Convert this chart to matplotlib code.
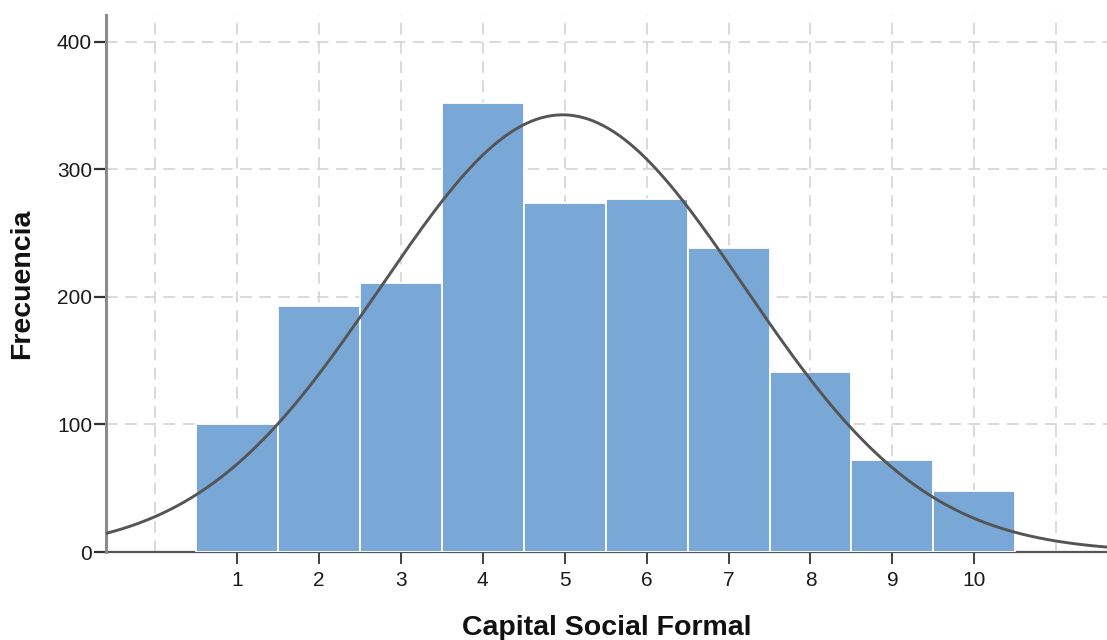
import numpy as np
import matplotlib
matplotlib.use("Agg")
import matplotlib.pyplot as plt

plt.rcParams['font.family'] = ['Liberation Sans', 'DejaVu Sans']

# Data
categories = [1, 2, 3, 4, 5, 6, 7, 8, 9, 10]
frequencies = [100, 193, 211, 352, 274, 277, 238, 141, 72, 48]
x_tick_labels = ['1', '2', '3', '4', '5', '6', '7', '8', '9', '10']
y_ticks = [0, 100, 200, 300, 400]
x_label = 'Capital Social Formal'
y_label = 'Frecuencia'

bar_color = '#7aa8d6'
curve_color = '#555555'

fig = plt.figure(figsize=(11.07, 6.40), dpi=100)
ax = fig.add_axes([106 / 1107, 1 - 552 / 640, 1 - 106 / 1107, (552 - 15) / 640])

cats = np.array(categories, dtype=float)
freq = np.array(frequencies, dtype=float)

ax.bar(cats, freq, width=1.0, color=bar_color, edgecolor='white',
       linewidth=1.3, zorder=3)

# Normal curve fitted to the histogram data (mean / sd of the binned values)
n = freq.sum()
mean = (cats * freq).sum() / n
sd = np.sqrt(((cats - mean) ** 2 * freq).sum() / n)
xs = np.linspace(-0.6, 11.7, 600)
ys = n * 1.0 / (sd * np.sqrt(2 * np.pi)) * np.exp(-0.5 * ((xs - mean) / sd) ** 2)
ax.plot(xs, ys, color=curve_color, linewidth=2.1, zorder=4)

ax.set_xlim(-0.6, 11.62)
ax.set_ylim(0, 421)

ax.set_xticks(categories)
ax.set_xticklabels(x_tick_labels)
ax.set_yticks(y_ticks)
ax.set_yticklabels([str(v) for v in y_ticks])

ax.grid(False)
for gx in range(0, 12):
    ax.axvline(gx, color='#d3d3d3', linewidth=1.2, linestyle=(0, (7, 4.5)), zorder=1)
for gy in y_ticks[1:]:
    ax.axhline(gy, color='#d3d3d3', linewidth=1.2, linestyle=(0, (7, 4.5)), zorder=1)

ax.tick_params(axis='x', which='major', direction='out', length=8.5, width=1.3,
               color='#333333', labelsize=15, labelcolor='#1a1a1a', pad=5)
ax.tick_params(axis='y', direction='out', length=8.5, width=1.6,
               color='#333333', labelsize=15, labelcolor='#1a1a1a', pad=1.5)

for s in ['top', 'right']:
    ax.spines[s].set_visible(False)
ax.spines['left'].set_color('#8c8c8c')
ax.spines['left'].set_linewidth(2.2)
ax.spines['bottom'].set_color('#555555')
ax.spines['bottom'].set_linewidth(1.6)
ax.spines['bottom'].set_zorder(2)

xl = ax.set_xlabel(x_label, fontsize=20.5, fontweight='bold', color='#111111')
ax.xaxis.set_label_coords(0.5, (552 - 635) / 537)
xl.set_va('baseline')
yl = ax.set_ylabel(y_label, fontsize=20.5, fontweight='bold', color='#111111')
ax.yaxis.set_label_coords((22 - 106) / 1001, 0.5)
yl.set_va('center')

fig.savefig('out.png', dpi=100)
